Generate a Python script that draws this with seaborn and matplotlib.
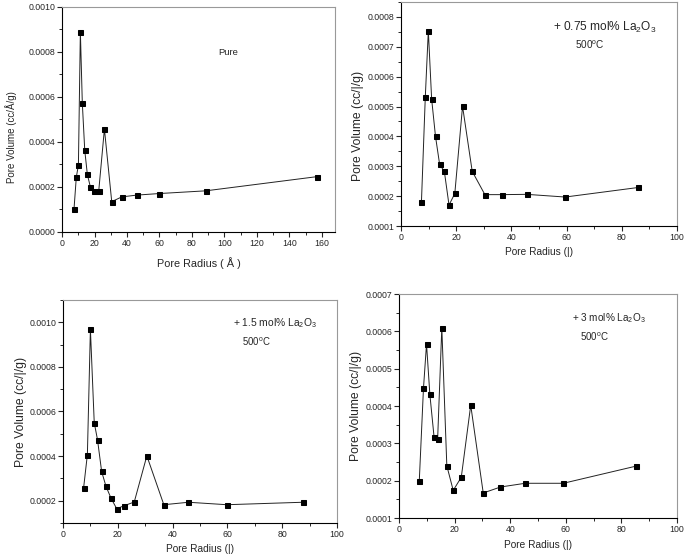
import numpy as np
import pandas as pd
import matplotlib
matplotlib.use("Agg")
import matplotlib.pyplot as plt
import seaborn as sns
from matplotlib.ticker import MultipleLocator, FormatStrFormatter

# pore size distributions
pure_r = [7.4, 8.8, 10.1, 11.3, 12.5, 14.0, 15.6, 17.5, 19.9, 22.6, 26.1, 30.6, 36.8, 46.0, 60.0, 88.5, 156.9]
pure_v = [0.000103, 0.000243, 0.000298, 0.000891, 0.000573, 0.000363, 0.000256, 0.000199, 0.000182,
          0.000182, 0.000458, 0.000135, 0.000156, 0.000164, 0.000171, 0.000183, 0.000246]

la075_r = [7.4, 8.8, 9.9, 11.1, 12.5, 14.0, 15.7, 17.4, 19.5, 22.3, 25.8, 30.4, 36.5, 45.5, 59.5, 86.0]
la075_v = [0.000179, 0.000531, 0.000754, 0.000525, 0.000400, 0.000306, 0.000283, 0.000170,
           0.000209, 0.000501, 0.000283, 0.000205, 0.000205, 0.000206, 0.000197, 0.000229]

la15_r = [7.5, 8.9, 10.0, 11.4, 12.6, 14.1, 15.7, 17.5, 19.6, 22.4, 26.0, 30.6, 36.8, 45.8, 59.8, 87.5]
la15_v = [0.000255, 0.000407, 0.000969, 0.000550, 0.000473, 0.000331, 0.000264, 0.000212,
          0.000164, 0.000178, 0.000194, 0.000401, 0.000182, 0.000193, 0.000182, 0.000193]

la3_r = [7.3, 8.8, 9.9, 11.1, 12.6, 13.9, 15.4, 17.2, 19.5, 22.4, 25.8, 30.3, 36.5, 45.4, 59.1, 85.3]
la3_v = [0.000200, 0.000447, 0.000566, 0.000431, 0.000318, 0.000312, 0.000610, 0.000240,
         0.000174, 0.000209, 0.000402, 0.000167, 0.000183, 0.000193, 0.000193, 0.000239]

sns.set_style("ticks")
plt.rcParams["font.family"] = ["Liberation Sans", "DejaVu Sans"]
plt.rcParams["mathtext.default"] = "regular"
plt.rcParams["mathtext.fontset"] = "custom"
plt.rcParams["mathtext.rm"] = "Liberation Sans"
plt.rcParams["mathtext.it"] = "Liberation Sans"

W, H = 685, 557
fig = plt.figure(figsize=(W / 100, H / 100), dpi=100)


def make_axes(left, top, right, bottom):
    return fig.add_axes([left / W, 1 - bottom / H, (right - left) / W, (bottom - top) / H])


def draw_panel(ax, r, v, xlim, ylim, xmaj, ymaj, ymin, xlabel, ylabel, xl_size, yl_size,
               xlab_y, ylab_x, ylab_y=0.5):
    sns.lineplot(x=r, y=v, ax=ax, color="#222222", linewidth=0.7, marker="s",
                 markersize=3.6, markeredgecolor="black", markerfacecolor="black")
    ax.set_xlim(*xlim)
    ax.set_ylim(*ylim)
    ax.xaxis.set_major_locator(MultipleLocator(xmaj))
    ax.xaxis.set_minor_locator(MultipleLocator(xmaj / 2))
    ax.yaxis.set_major_locator(MultipleLocator(ymaj))
    ax.yaxis.set_minor_locator(MultipleLocator(ymin))
    ax.yaxis.set_major_formatter(FormatStrFormatter("%.4f"))
    ax.tick_params(which="major", length=3.5, width=0.8, labelsize=6.3, pad=1.5, direction="out")
    ax.tick_params(which="minor", length=2, width=0.7, direction="out")
    for s in ["left", "bottom"]:
        ax.spines[s].set_color("black")
        ax.spines[s].set_linewidth(0.8)
    for s in ["top", "right"]:
        ax.spines[s].set_visible(True)
        ax.spines[s].set_color("#999999")
        ax.spines[s].set_linewidth(0.8)
    ax.set_xlabel(xlabel, fontsize=xl_size)
    ax.set_ylabel(ylabel, fontsize=yl_size)
    ax.xaxis.set_label_coords(0.5, xlab_y)
    ax.yaxis.set_label_coords(ylab_x, ylab_y)


ax1 = make_axes(62, 7, 335, 232)
draw_panel(ax1, pure_r, pure_v, (0, 168), (0, 0.001), 20, 0.0002, 0.0001,
           "Pore Radius ( Å )", "Pore Volume (cc/Å/g)", 7.8, 7.0, -0.111, -0.165, 0.42)
ax1.text(102, 0.000796, "Pure", fontsize=6.8, ha="center", va="center")

ax2 = make_axes(401, 2, 677, 226)
draw_panel(ax2, la075_r, la075_v, (0, 100), (0.0001, 0.00085), 20, 0.0001, 0.00005,
           "Pore Radius (|)", "Pore Volume (cc/|/g)", 7.3, 8.7, -0.094, -0.134, 0.446)
ax2.text(55.1, 0.000766, "+ 0.75 mol% La$_2$O$_3$", fontsize=8.6, ha="left", va="center")
ax2.text(63.0, 0.000706, "500$^o$C", fontsize=7.2, ha="left", va="center")

ax3 = make_axes(63, 300, 337, 523)
draw_panel(ax3, la15_r, la15_v, (0, 100), (0.0001, 0.0011), 20, 0.0002, 0.0001,
           "Pore Radius (|)", "Pore Volume (cc/|/g)", 7.3, 8.7, -0.094, -0.131)
ax3.text(62.0, 0.000997, "+ 1.5 mol% La$_2$O$_3$", fontsize=7.4, ha="left", va="center")
ax3.text(65.3, 0.000912, "500$^o$C", fontsize=6.9, ha="left", va="center")

ax4 = make_axes(399, 294, 677, 518)
draw_panel(ax4, la3_r, la3_v, (0, 100), (0.0001, 0.0007), 20, 0.0001, 0.00005,
           "Pore Radius (|)", "Pore Volume (cc/|/g)", 7.3, 8.7, -0.098, -0.133)
ax4.text(62.2, 0.000636, "+ 3 mol% La$_2$O$_3$", fontsize=7.2, ha="left", va="center")
ax4.text(65.1, 0.000585, "500$^o$C", fontsize=7.0, ha="left", va="center")

fig.savefig("out.png", dpi=100)
